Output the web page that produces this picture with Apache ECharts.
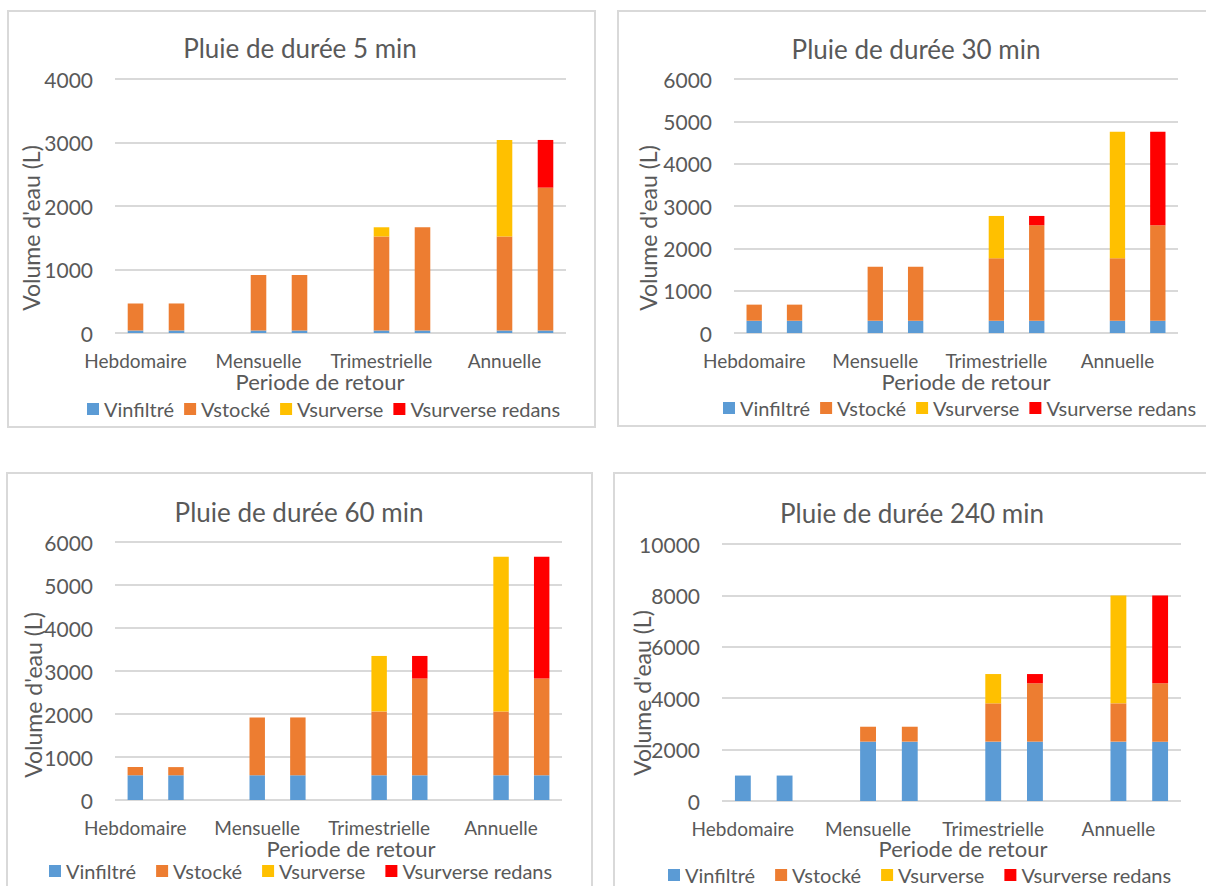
<!DOCTYPE html>
<html>
<head>
<meta charset="utf-8">
<script src="https://cdn.jsdelivr.net/npm/echarts@6/dist/echarts.min.js"></script>
<style>
  html, body { margin: 0; padding: 0; background: #ffffff; }
  #chart { width: 1206px; height: 886px; }
</style>
</head>
<body>
<div id="chart"></div>
<script>
// Return periods on the category axis
const periodes = ['Hebdomaire', 'Mensuelle', 'Trimestrielle', 'Annuelle'];
const seriesNames = ['Vinfiltré', 'Vstocké', 'Vsurverse', 'Vsurverse redans'];
const durees = ['5', '30', '60', '240'];

// Volumes (L). "A" = first bar of each pair, "B" = second bar (with redans)
// Rain of 5 min
const infiltre5 = [40, 40, 40, 40];
const stockeA5 = [425, 875, 1480, 1480];
const stockeB5 = [425, 875, 1625, 2250];
const surverse5 = [0, 0, 145, 1520];
const redans5 = [0, 0, 0, 750];

// Rain of 30 min
const infiltre30 = [290, 290, 290, 290];
const stockeA30 = [380, 1275, 1475, 1475];
const stockeB30 = [380, 1275, 2255, 2255];
const surverse30 = [0, 0, 1000, 2990];
const redans30 = [0, 0, 220, 2210];

// Rain of 60 min
const infiltre60 = [575, 575, 575, 575];
const stockeA60 = [190, 1345, 1485, 1485];
const stockeB60 = [190, 1345, 2250, 2250];
const surverse60 = [0, 0, 1290, 3595];
const redans60 = [0, 0, 525, 2830];

// Rain of 240 min
const infiltre240 = [990, 2310, 2310, 2310];
const stockeA240 = [0, 580, 1490, 1490];
const stockeB240 = [0, 580, 2270, 2270];
const surverse240 = [0, 0, 1140, 4200];
const redans240 = [0, 0, 360, 3420];

// Value axis ranges
const yMax = [4000, 6000, 6000, 10000];
const yStep = [1000, 1000, 1000, 2000];

const panelData = [
  [infiltre5, stockeA5, stockeB5, surverse5, redans5],
  [infiltre30, stockeA30, stockeB30, surverse30, redans30],
  [infiltre60, stockeA60, stockeB60, surverse60, redans60],
  [infiltre240, stockeA240, stockeB240, surverse240, redans240]
];

// ---- layout of the four panels ----
const FONT = 'Lato, "Open Sans", sans-serif';
const TXT = '#595959';
const GRIDC = '#D9D9D9';
const colors = ['#5B9BD5', '#ED7D31', '#FFC000', '#FF0000'];

const layout = [
  { grid: { left: 115, top: 79, width: 451, height: 254 }, title: [300, 35], frame: [8, 11, 587, 416],
    xName: [320, 381], yName: [31, 228], legend: [87, 399], legendGap: 10 },
  { grid: { left: 734, top: 79, width: 444, height: 254 }, title: [916, 36], frame: [618, 11, 600, 415],
    xName: [966, 381], yName: [648, 228], legend: [723, 398], legendGap: 10 },
  { grid: { left: 115, top: 542, width: 447, height: 258 }, title: [299, 499], frame: [7, 473, 585, 430],
    xName: [351, 848], yName: [33, 695], legend: [49, 861], legendGap: 20 },
  { grid: { left: 722, top: 544, width: 459, height: 257 }, title: [912, 500], frame: [614, 473, 600, 430],
    xName: [963, 848], yName: [642, 693], legend: [668, 865], legendGap: 20 }
];

// 11 slots: bar A, bar B, gap ... (no gap after the last pair)
const categories = [];
periodes.forEach((p, i) => {
  categories.push(p, '');
  if (i < periodes.length - 1) categories.push('');
});

function slots(a, b) {
  const out = [];
  periodes.forEach((_, i) => {
    out.push(a ? a[i] : '-', b ? b[i] : '-');
    if (i < periodes.length - 1) out.push('-');
  });
  return out;
}

const grids = [], xAxes = [], yAxes = [], series = [], titles = [], legends = [], graphics = [];

layout.forEach((L, k) => {
  const [inf, stA, stB, surv, red] = panelData[k];
  grids.push(Object.assign({ containLabel: false }, L.grid));

  xAxes.push({
    type: 'category', gridIndex: k, data: categories,
    axisLine: { show: false }, axisTick: { show: false },
    axisLabel: { interval: 0, color: TXT, fontFamily: FONT, fontSize: 19, margin: 18, lineHeight: 18 }
  });
  yAxes.push({
    type: 'value', gridIndex: k, min: 0, max: yMax[k], interval: yStep[k],
    axisLine: { show: false }, axisTick: { show: false },
    axisLabel: { color: TXT, fontFamily: FONT, fontSize: 21, margin: 22, formatter: v => String(v) },
    splitLine: { lineStyle: { color: GRIDC, width: 2 } }
  });

  const dataSets = [slots(inf, inf), slots(stA, stB), slots(surv, null), slots(null, red)];
  seriesNames.forEach((name, s) => {
    series.push({
      name, type: 'bar', stack: 'panel' + k, xAxisIndex: k, yAxisIndex: k,
      barWidth: '38%', data: dataSets[s], itemStyle: { color: colors[s] },
      emphasis: { disabled: true }
    });
  });

  titles.push({
    text: 'Pluie de durée ' + durees[k] + ' min',
    left: L.title[0], top: L.title[1], textAlign: 'center', padding: 0,
    textStyle: { color: TXT, fontFamily: FONT, fontSize: 26, fontWeight: 'normal' }
  });

  legends.push({
    data: seriesNames, left: L.legend[0], top: L.legend[1], padding: 0,
    icon: 'rect', itemWidth: 12, itemHeight: 12, itemGap: L.legendGap,
    textStyle: { color: TXT, fontFamily: FONT, fontSize: 20, padding: [0, 0, 0, 0] },
    selectedMode: false
  });

  graphics.push({
    type: 'rect', silent: true, z: -1,
    shape: { x: L.frame[0], y: L.frame[1], width: L.frame[2], height: L.frame[3] },
    style: { fill: 'none', stroke: GRIDC, lineWidth: 2 }
  });
  graphics.push({
    type: 'text', x: L.xName[0], y: L.xName[1], silent: true,
    style: { text: 'Periode de retour', fill: TXT, font: '22px ' + FONT, lineHeight: 20,
             align: 'center', verticalAlign: 'middle', textAlign: 'center', textVerticalAlign: 'middle' }
  });
  graphics.push({
    type: 'text', x: L.yName[0], y: L.yName[1], rotation: Math.PI / 2, silent: true,
    style: { text: "Volume d'eau (L)", fill: TXT, font: '23px ' + FONT,
             align: 'center', verticalAlign: 'middle', textAlign: 'center', textVerticalAlign: 'middle' }
  });
});

const chart = echarts.init(document.getElementById('chart'), null, { renderer: 'svg' });
chart.setOption({
  backgroundColor: '#ffffff',
  animation: false,
  title: titles,
  legend: legends,
  grid: grids,
  xAxis: xAxes,
  yAxis: yAxes,
  series: series,
  graphic: { elements: graphics }
});
</script>
</body>
</html>
